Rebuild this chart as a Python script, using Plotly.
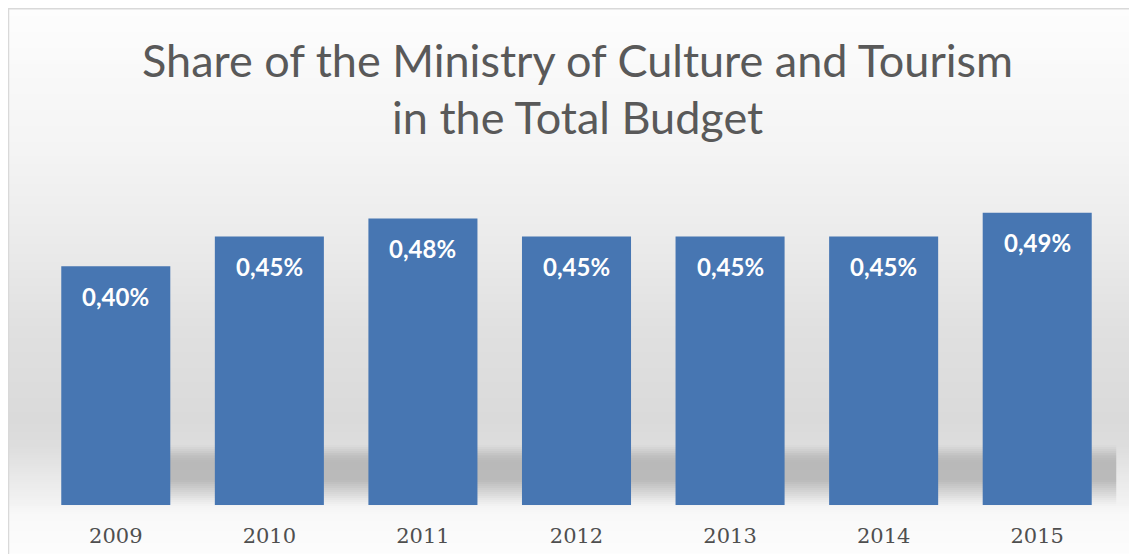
import plotly.graph_objects as go

years = ["2009", "2010", "2011", "2012", "2013", "2014", "2015"]
shares = [0.40, 0.45, 0.48, 0.45, 0.45, 0.45, 0.49]
labels = [f"{v:.2f}".replace(".", ",") + "%" for v in shares]
title_lines = ["Share of the Ministry of Culture and Tourism", "in the Total Budget"]

W, H = 1137, 554
OFF = 8  # page body offset: reference pixel p sits at figure pixel p - OFF
# plot area in reference pixels
PX0, PX1, PY0, PY1 = 39.25, 1113.75, 147, 505
ML = PX0 - OFF
MR = W - (PX1 - OFF)
MT = PY0 - OFF
MB = H - (PY1 - OFF)
PW, PH = PX1 - PX0, PY1 - PY0


def px(x):
    return (x - PX0) / PW


def py(y):
    return (PY1 - y) / PH


def grey(g):
    return "rgb(%d,%d,%d)" % (g, g, g)


shapes = []
# vertical background gradient (stops: reference y pixel, grey value)
stops = [(8, 253), (150, 244), (250, 234), (330, 224), (420, 218), (445, 221),
         (456, 192), (462, 185), (480, 186), (500, 232), (506, 244), (515, 249), (570, 254)]
step = 2
for i in range(len(stops) - 1):
    y0, g0 = stops[i]
    y1, g1 = stops[i + 1]
    y = y0
    while y < y1:
        ye = min(y + step, y1)
        t = ((y + ye) / 2 - y0) / (y1 - y0)
        g = round(g0 + (g1 - g0) * t)
        if 445 <= y < 506:
            gb = round(221 + (244 - 221) * (y - 445) / 61)
            shapes.append(dict(type="rect", xref="paper", yref="paper",
                               x0=px(0), x1=px(W + 20), y0=py(ye), y1=py(y),
                               fillcolor=grey(gb), line_width=0, layer="below"))
            shapes.append(dict(type="rect", xref="paper", yref="paper",
                               x0=px(62), x1=px(1116), y0=py(ye), y1=py(y),
                               fillcolor=grey(g), line_width=0, layer="below"))
        else:
            shapes.append(dict(type="rect", xref="paper", yref="paper",
                               x0=px(0), x1=px(W + 20), y0=py(ye), y1=py(y),
                               fillcolor=grey(g), line_width=0, layer="below"))
        y = ye

# frame (top and left)
shapes.append(dict(type="line", xref="paper", yref="paper",
                   x0=px(7), x1=px(W + 20), y0=py(8), y1=py(8),
                   line=dict(color="#d9d9d9", width=3), layer="below"))
shapes.append(dict(type="line", xref="paper", yref="paper",
                   x0=px(8), x1=px(8), y0=py(7), y1=py(H + 20),
                   line=dict(color="#d9d9d9", width=3), layer="below"))

fig = go.Figure()
fig.add_trace(go.Bar(
    x=years, y=shares,
    marker=dict(color="#4776b2", line_width=0),
    width=0.71,
    hoverinfo="skip",
))

annotations = []
for i, (v, lab) in enumerate(zip(shares, labels)):
    annotations.append(dict(x=i, y=v, xref="x", yref="y", text=lab, showarrow=False,
                            yshift=-30, yanchor="middle",
                            font=dict(family="Lato", size=24, color="white", weight="bold")))

annotations.append(dict(xref="paper", yref="paper", x=px(577), y=py(60),
                        text=title_lines[0], showarrow=False, yanchor="middle",
                        font=dict(family="Lato", size=45, color="#595959")))
annotations.append(dict(xref="paper", yref="paper", x=px(577), y=py(117),
                        text=title_lines[1], showarrow=False, yanchor="middle",
                        font=dict(family="Lato", size=45, color="#595959")))

fig.update_layout(
    width=W, height=H,
    margin=dict(l=ML, r=MR, t=MT, b=MB),
    paper_bgcolor="white",
    plot_bgcolor="rgba(0,0,0,0)",
    showlegend=False,
    shapes=shapes,
    annotations=annotations,
    xaxis=dict(type="category", range=[-0.5, 6.5], showgrid=False, zeroline=False,
               showline=False, ticks="outside", ticklen=12, tickcolor="rgba(0,0,0,0)",
               tickfont=dict(family="DejaVu Serif", size=21, color="#4f4f4f")),
    yaxis=dict(range=[0, 0.6], showgrid=False, zeroline=False, showline=False,
               showticklabels=False, ticks=""),
)

fig.write_html("out.html")
